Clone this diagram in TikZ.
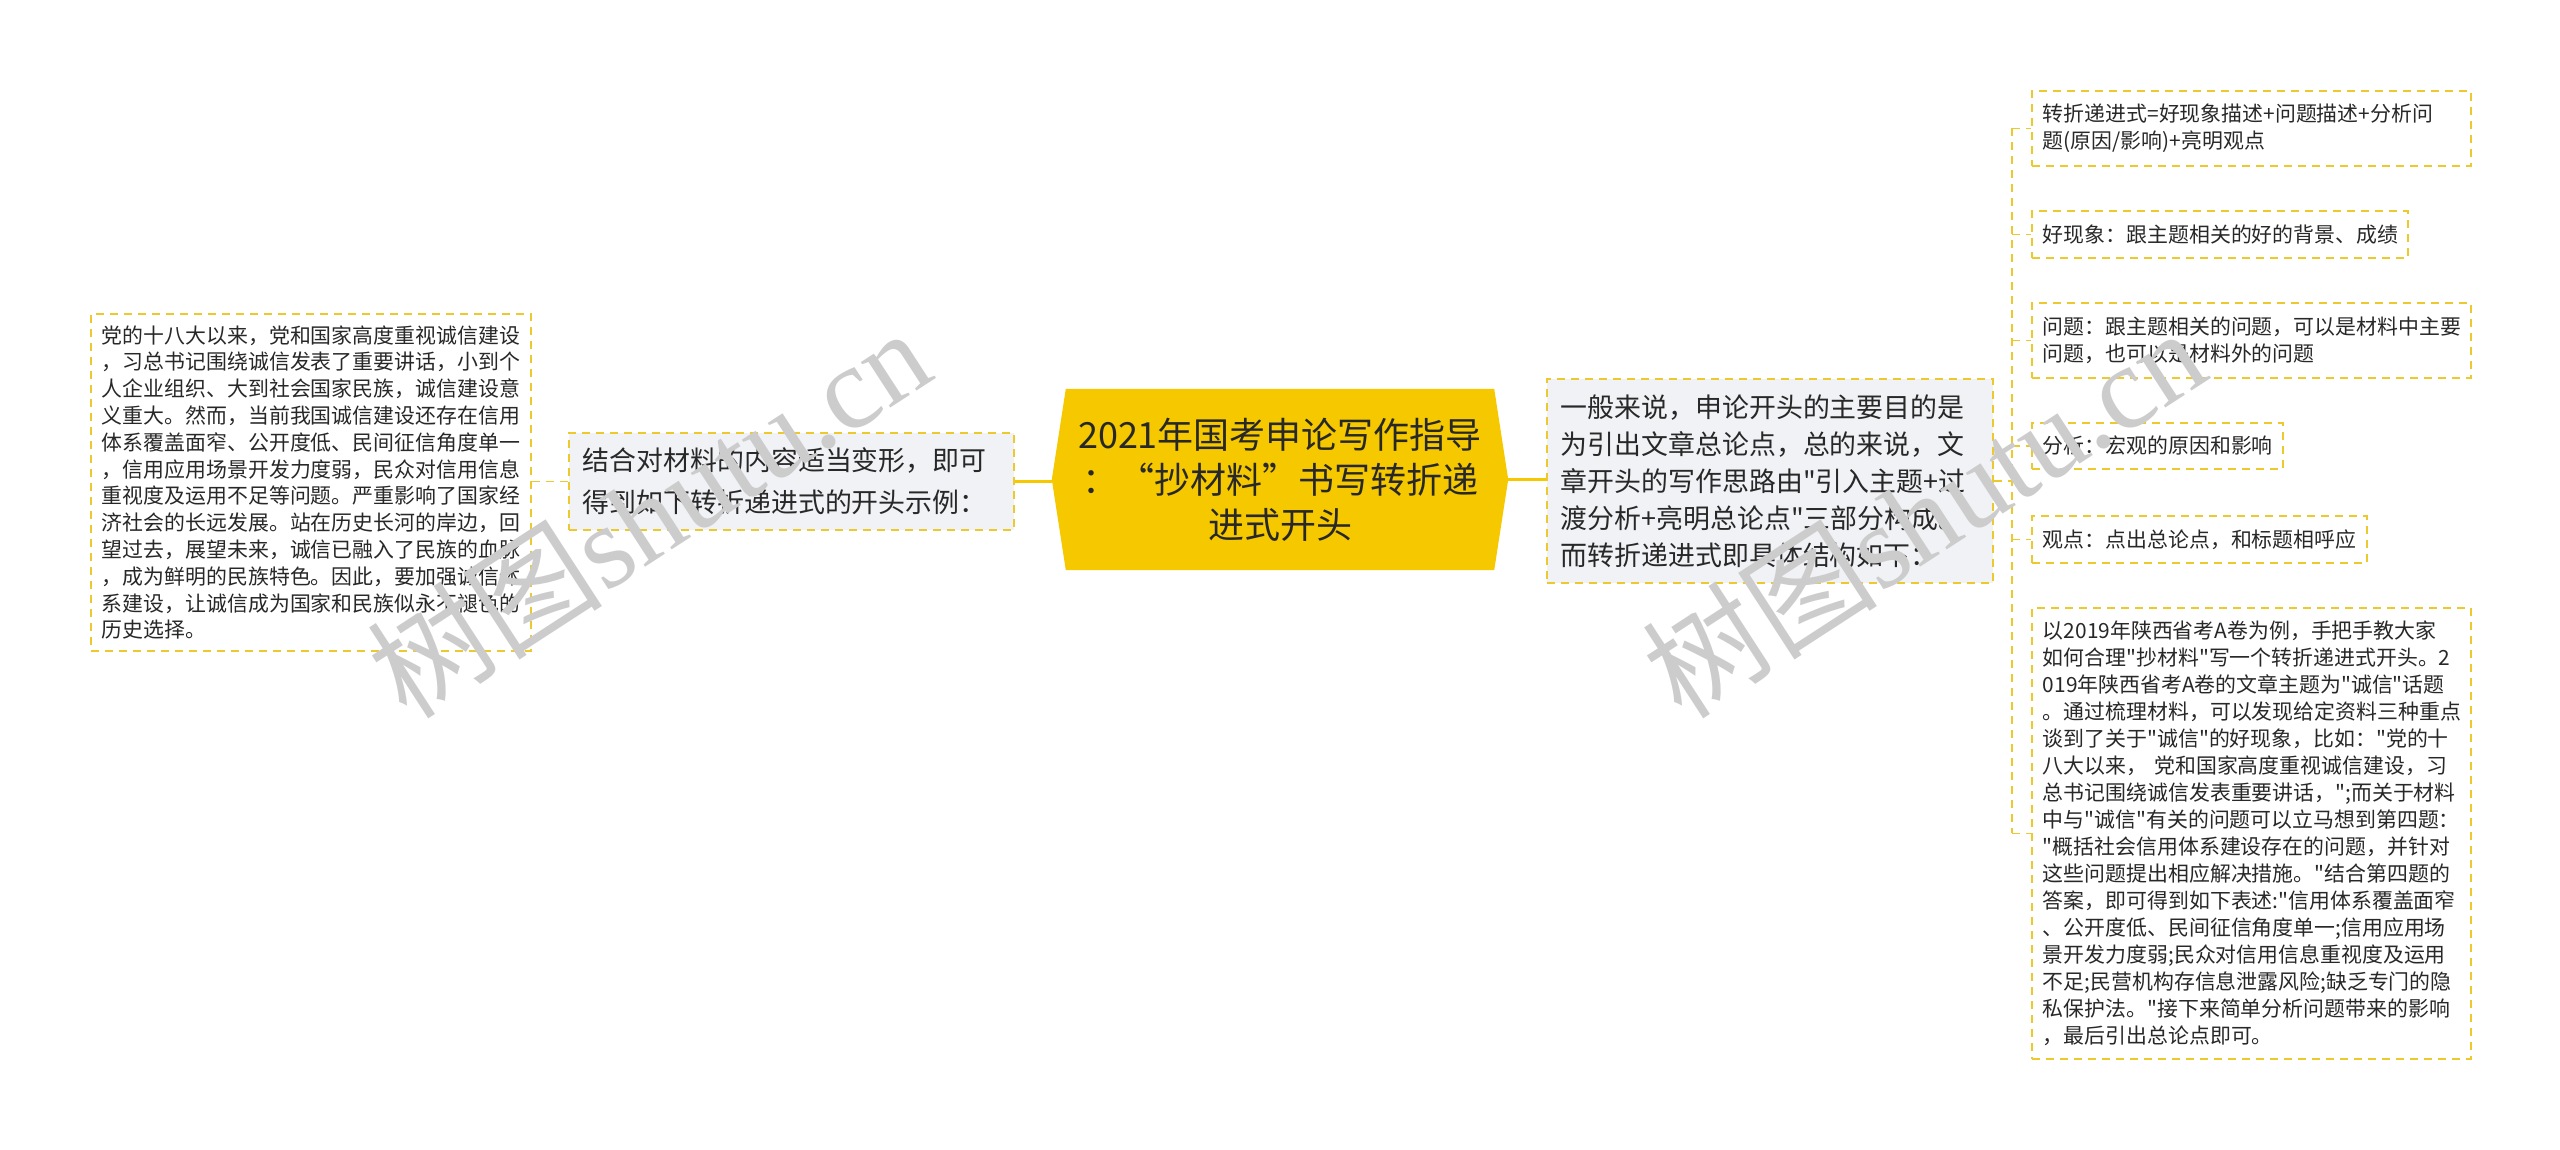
\documentclass[tikz,border=0pt]{standalone}
\usepackage{fontspec}
\newfontfamily\cjk{Noto Sans CJK SC}
\newfontfamily\wmfont{Liberation Serif}
\usetikzlibrary{backgrounds,calc}
\definecolor{gold}{RGB}{245,200,0}
\definecolor{dashy}{RGB}{236,201,45}
\definecolor{boxfill}{RGB}{240,242,245}
\definecolor{txt}{RGB}{40,40,40}
\definecolor{wmgray}{RGB}{204,204,204}
\begin{document}
\begin{tikzpicture}[x=1pt,y=-1pt,
  dashc/.style={draw=dashy, line width=1.8pt, dash pattern=on 8pt off 6pt},
  solidc/.style={draw=gold, line width=3pt},
  base/.style={anchor=north west, inner ysep=0pt, align=left, text=txt},
  leaf/.style={base, dashc, fill=white, inner xsep=11pt, font=\cjk\fontsize{20.9}{27}\selectfont},
  mid/.style={base, dashc, fill=boxfill, inner xsep=14pt},
  wm/.style={rotate=33, text=wmgray, font=\fontsize{118}{118}\selectfont, inner sep=0pt}
]
\useasboundingbox (0,0) rectangle (2560,1149);

% left text box
\node[leaf, font=\cjk\fontsize{20.9}{26.8}\selectfont, minimum width=440pt, minimum height=337pt, text width=418pt] (L) at (90,313) {党的十八大以来，党和国家高度重视诚信建设\\
，习总书记围绕诚信发表了重要讲话，小到个\\
人企业组织、大到社会国家民族，诚信建设意\\
义重大。然而，当前我国诚信建设还存在信用\\
体系覆盖面窄、公开度低、民间征信角度单一\\
，信用应用场景开发力度弱，民众对信用信息\\
重视度及运用不足等问题。严重影响了国家经\\
济社会的长远发展。站在历史长河的岸边，回\\
望过去，展望未来，诚信已融入了民族的血脉\\
，成为鲜明的民族特色。因此，要加强诚信体\\
系建设，让诚信成为国家和民族似永不褪色的\\
历史选择。};

% middle-left box
\node[mid, font=\cjk\fontsize{26.9}{42}\selectfont, minimum width=445pt, minimum height=97pt, text width=417pt] (ML) at (568,432) {结合对材料的内容适当变形，即可\\
得到如下转折递进式的开头示例：};

% central node
\node[font=\cjk\fontsize{36}{45}\selectfont, align=center, text=txt, minimum width=428pt, minimum height=181pt, inner sep=0pt] (C) at (1280,479.5) {2021年国考申论写作指导\\
：“抄材料”书写转折递\\
进式开头};
\coordinate (Cw) at ($(C.west)+(-14,0)$);
\coordinate (Ce) at ($(C.east)+(14,0)$);

% right-middle box
\node[mid, font=\cjk\fontsize{26.9}{37}\selectfont, minimum width=446pt, minimum height=204pt, text width=418pt] (RM) at (1546,378) {一般来说，申论开头的主要目的是\\
为引出文章总论点，总的来说，文\\
章开头的写作思路由"引入主题+过\\
渡分析+亮明总论点"三部分构成。\\
而转折递进式即具体结构如下：};

% right leaves
\node[leaf, minimum width=439pt, minimum height=75pt, text width=417pt] (B1) at (2031,90) {转折递进式=好现象描述+问题描述+分析问\\
题(原因/影响)+亮明观点};
\node[leaf, minimum width=376pt, minimum height=47pt, text width=354pt] (B2) at (2031,210) {好现象：跟主题相关的好的背景、成绩};
\node[leaf, minimum width=439pt, minimum height=75pt, text width=417pt] (B3) at (2031,302) {问题：跟主题相关的问题，可以是材料中主要\\
问题，也可以是材料外的问题};
\node[leaf, minimum width=251pt, minimum height=46pt, text width=229pt] (B4) at (2031,422) {分析：宏观的原因和影响};
\node[leaf, minimum width=335pt, minimum height=47pt, text width=313pt] (B5) at (2031,515) {观点：点出总论点，和标题相呼应};
\node[leaf, minimum width=439pt, minimum height=451pt, text width=417pt] (B6) at (2031,607) {以2019年陕西省考A卷为例，手把手教大家\\
如何合理"抄材料"写一个转折递进式开头。2\\
019年陕西省考A卷的文章主题为"诚信"话题\\
。通过梳理材料，可以发现给定资料三种重点\\
谈到了关于"诚信"的好现象，比如："党的十\\
八大以来，~党和国家高度重视诚信建设，习\\
总书记围绕诚信发表重要讲话，";而关于材料\\
中与"诚信"有关的问题可以立马想到第四题：\\
"概括社会信用体系建设存在的问题，并针对\\
这些问题提出相应解决措施。"结合第四题的\\
答案，即可得到如下表述:"信用体系覆盖面窄\\
、公开度低、民间征信角度单一;信用应用场\\
景开发力度弱;民众对信用信息重视度及运用\\
不足;民营机构存信息泄露风险;缺乏专门的隐\\
私保护法。"接下来简单分析问题带来的影响\\
，最后引出总论点即可。};

\begin{pgfonlayer}{background}
  \fill[white] (0,0) rectangle (2560,1149);
  \fill[gold] (Cw) -- (C.north west) -- (C.north east) -- (Ce) -- (C.south east) -- (C.south west) -- cycle;
\end{pgfonlayer}

% connectors
\draw[dashc] (L.east |- ML.west) -- (ML.west);
\draw[solidc] (ML.east) -- (ML.east -| Cw);
\draw[solidc] (Ce) -- (Ce -| RM.west);
\coordinate (sp) at (2012,480);
\draw[dashc] (RM.east) -- (RM.east -| sp);
\draw[dashc] (sp |- B1.west) -- (sp |- B6.west);
\foreach \b in {B1,B2,B3,B4,B5,B6}{
  \draw[dashc] (sp |- \b.west) -- (\b.west);
}

% watermarks
\begin{scope}[blend group=multiply]
\node[wm] (wm1) at (648,512) {{\cjk 树图}{\wmfont shutu.cn}};
\node[wm] (wm2) at (1923,512) {{\cjk 树图}{\wmfont shutu.cn}};
\end{scope}
\end{tikzpicture}
\end{document}
